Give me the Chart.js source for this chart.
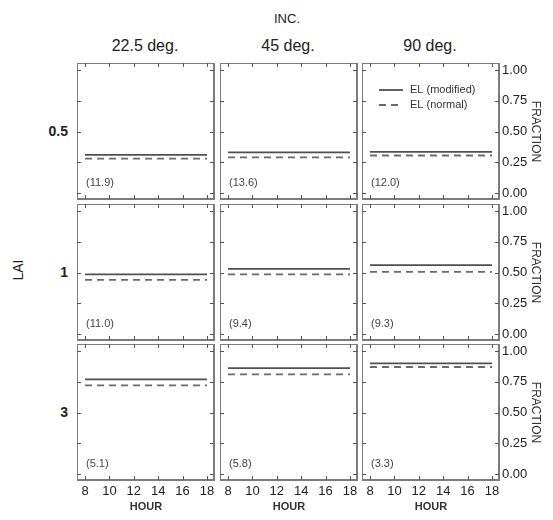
<!DOCTYPE html>
<html>
<head>
<meta charset="utf-8">
<script src="https://cdn.jsdelivr.net/npm/chart.js@4.4.0/dist/chart.umd.min.js"></script>
<style>
    body { margin: 0; background: #fff; overflow: hidden; }
    #wrap { position: relative; width: 553px; height: 520px; font-family: "Liberation Sans", Arial, sans-serif; color: #222; }
    #wrap canvas { position: absolute; }
    .lbl { position: absolute; white-space: nowrap; line-height: 1; }
</style>
</head>
<body>
<div id="wrap"></div>
<script>
// Panel grid: columns = leaf inclination, rows = leaf area index
const INC_LABELS = ["22.5 deg.", "45 deg.", "90 deg."];
const LAI_LABELS = ["0.5", "1", "3"];

// Hours of the day covered by each line
const HOURS = [8, 18];
const HOUR_TICKS = [8, 10, 12, 14, 16, 18];
const FRACTION_TICKS = [0, 0.25, 0.5, 0.75, 1];

// Fraction values, one row per LAI, one entry per inclination
const EL_MODIFIED = [
    [0.31, 0.33, 0.335],
    [0.485, 0.53, 0.56],
    [0.77, 0.86, 0.90],
];
const EL_NORMAL = [
    [0.28, 0.29, 0.305],
    [0.44, 0.485, 0.505],
    [0.72, 0.81, 0.87],
];

// Bracketed numbers printed in the corner of each panel
const PANEL_NOTES = [
    ["(11.9)", "(13.6)", "(12.0)"],
    ["(11.0)", "(9.4)", "(9.3)"],
    ["(5.1)", "(5.8)", "(3.3)"],
];

const FONT = "'Liberation Sans', Arial, sans-serif";
Chart.defaults.font.family = FONT;
Chart.defaults.color = "#222";

const wrap = document.getElementById("wrap");
const colLeft = [77, 220, 362];
const rowTop = [63, 204, 344];
const CANVAS_W = 185;
const CANVAS_H = 176;

function addLabel(text, x, y, css) {
    const el = document.createElement("div");
    el.className = "lbl";
    el.textContent = text;
    el.style.left = x + "px";
    el.style.top = y + "px";
    Object.assign(el.style, css);
    wrap.appendChild(el);
}

addLabel("INC.", 287, 18, { fontSize: "13px", transform: "translate(-50%,-50%)" });
INC_LABELS.forEach((t, c) => {
    addLabel(t, colLeft[c] + 68, 46, { fontSize: "16px", transform: "translate(-50%,-50%)" });
});
LAI_LABELS.forEach((t, r) => {
    addLabel(t, 68, rowTop[r] + 68, { fontSize: "14px", fontWeight: "bold", transform: "translate(-100%,-50%)" });
});
addLabel("LAI", 18, 270, { fontSize: "14px", transform: "translate(-50%,-50%) rotate(-90deg)" });

// Keep every panel's plot area the same size, whatever labels it shows
function fixSize(scale, w, h) {
    if (w) scale.width = w;
    if (h) scale.height = h;
    scale.paddingTop = 0;
    scale.paddingBottom = 0;
    scale.paddingLeft = 0;
    scale.paddingRight = 0;
}

// Box, inward ticks, corner note and the in-panel legend
const framePlugin = {
    id: "frame",
    afterDraw(chart, args, opts) {
        const { ctx, chartArea: a, scales } = chart;
        const left = a.left - 8, right = a.right + 7, top = a.top - 7, bottom = a.bottom + 6;
        ctx.save();
        ctx.strokeStyle = "#7c7c7c";
        ctx.lineWidth = 2;
        ctx.strokeRect(left, top, right - left, bottom - top);

        ctx.strokeStyle = "#555";
        ctx.lineWidth = 1;
        ctx.beginPath();
        HOUR_TICKS.forEach((h) => {
            const x = Math.round(scales.x.getPixelForValue(h)) + 0.5;
            ctx.moveTo(x, top); ctx.lineTo(x, top + 4);
            ctx.moveTo(x, bottom); ctx.lineTo(x, bottom - 4);
        });
        FRACTION_TICKS.forEach((v) => {
            const y = Math.round(scales.y.getPixelForValue(v)) + 0.5;
            ctx.moveTo(left, y); ctx.lineTo(left + 4, y);
            ctx.moveTo(right, y); ctx.lineTo(right - 4, y);
        });
        ctx.stroke();

        ctx.font = "11px " + FONT;
        ctx.fillStyle = "#444";
        ctx.textBaseline = "middle";
        ctx.textAlign = "left";
        ctx.fillText(opts.note, scales.x.getPixelForValue(8) + 1, scales.y.getPixelForValue(0.08));

        if (opts.legend) {
            chart.data.datasets.forEach((ds, i) => {
                const y = a.top + 20 + i * 15;
                ctx.beginPath();
                ctx.strokeStyle = ds.borderColor;
                ctx.lineWidth = ds.borderWidth;
                ctx.setLineDash(ds.borderDash || []);
                ctx.moveTo(a.left + 9, y);
                ctx.lineTo(a.left + 33, y);
                ctx.stroke();
                ctx.setLineDash([]);
                ctx.fillStyle = "#333";
                ctx.fillText(ds.label, a.left + 40, y);
            });
        }
        ctx.restore();
    },
};

function makePanel(r, c) {
    const canvas = document.createElement("canvas");
    canvas.width = CANVAS_W;
    canvas.height = CANVAS_H;
    canvas.style.left = colLeft[c] + "px";
    canvas.style.top = rowTop[r] + "px";
    wrap.appendChild(canvas);

    const lastRow = r === 2;
    const lastCol = c === 2;

    new Chart(canvas.getContext("2d"), {
        type: "line",
        data: {
            datasets: [
                {
                    label: "EL (modified)",
                    data: HOURS.map((h) => ({ x: h, y: EL_MODIFIED[r][c] })),
                    borderColor: "#505050",
                    borderWidth: 1.8,
                    pointRadius: 0,
                },
                {
                    label: "EL (normal)",
                    data: HOURS.map((h) => ({ x: h, y: EL_NORMAL[r][c] })),
                    borderColor: "#6a6a6a",
                    borderWidth: 1.8,
                    borderDash: [7, 5],
                    pointRadius: 0,
                },
            ],
        },
        options: {
            responsive: false,
            animation: false,
            layout: { padding: { left: 8, top: 7, right: 0, bottom: 0 } },
            plugins: {
                legend: { display: false },
                tooltip: { enabled: false },
                frame: { note: PANEL_NOTES[r][c], legend: r === 0 && c === 2 },
            },
            scales: {
                x: {
                    type: "linear",
                    min: 8,
                    max: 18,
                    grid: { display: false, drawTicks: false },
                    border: { display: false },
                    ticks: { display: lastRow, stepSize: 2, padding: 10, maxRotation: 0, font: { size: 13 }, color: "#222" },
                    title: { display: lastRow, text: "HOUR", font: { size: 11, weight: "bold" }, color: "#333", padding: { top: 0, bottom: 6 } },
                    afterFit: (scale) => fixSize(scale, 0, CANVAS_H - 130),
                },
                y: {
                    position: "right",
                    min: 0,
                    max: 1,
                    grid: { display: false, drawTicks: false },
                    border: { display: false },
                    ticks: { display: lastCol, stepSize: 0.25, padding: 10, font: { size: 13 }, color: "#222", callback: (v) => v.toFixed(2) },
                    title: { display: lastCol, text: "FRACTION", font: { size: 12 }, color: "#333", padding: { top: 4, bottom: 0 } },
                    afterFit: (scale) => fixSize(scale, CANVAS_W - 130, 0),
                },
            },
        },
        plugins: [framePlugin],
    });
}

for (let r = 0; r < 3; r++) {
    for (let c = 0; c < 3; c++) {
        makePanel(r, c);
    }
}
</script>
</body>
</html>
